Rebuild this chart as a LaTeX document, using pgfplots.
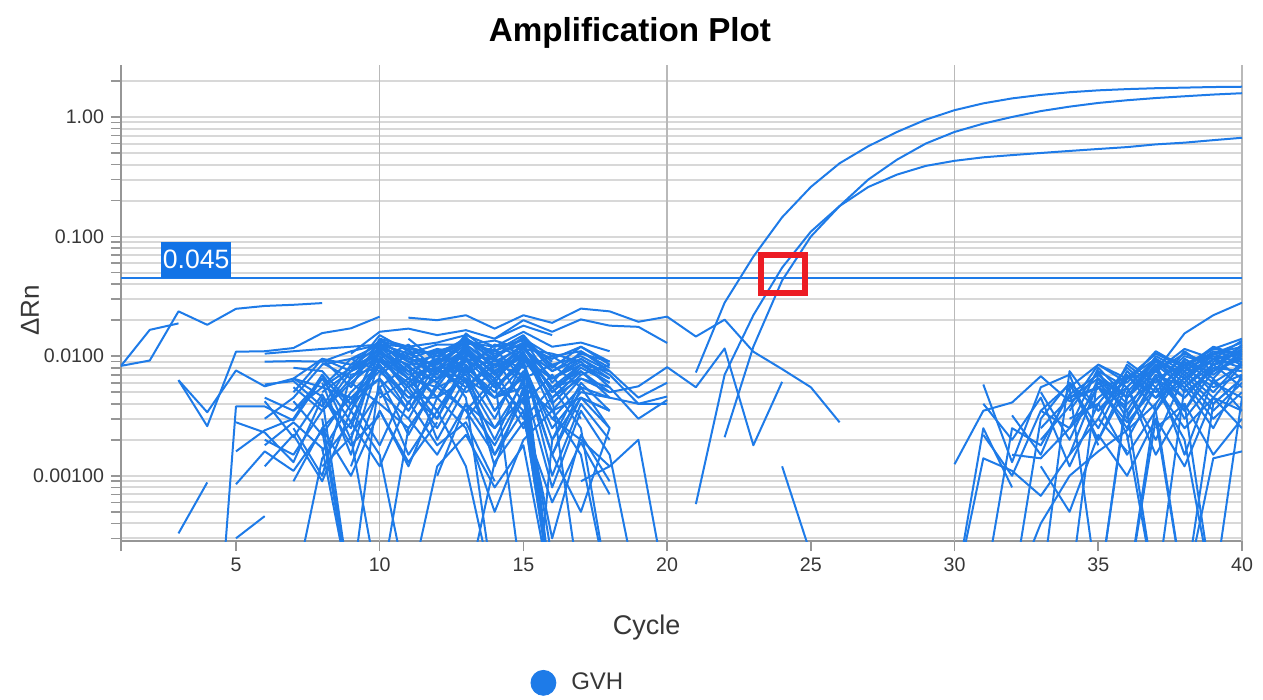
\documentclass[border=0pt]{standalone}
\usepackage{fontspec}
\setmainfont{Liberation Sans}
\usepackage{pgfplots}
\pgfplotsset{compat=1.18}
\definecolor{lineblue}{RGB}{30,123,232}
\definecolor{boxblue}{RGB}{18,115,230}
\definecolor{redbox}{RGB}{236,28,36}
\definecolor{gridgray}{RGB}{216,216,216}
\definecolor{vgrid}{RGB}{185,185,185}
\definecolor{axisgray}{RGB}{150,150,150}
\definecolor{ticktext}{RGB}{55,55,55}
\pgfplotsset{n/.style={lineblue, line width=1pt, line join=round, forget plot}}
\begin{document}
\begin{tikzpicture}
\path[use as bounding box] (-60.5pt,-79.5pt) rectangle (571pt,270.5pt);
\begin{axis}[
    scale only axis, width=560.5pt, height=238pt,
    ymode=log, xmin=1, xmax=40, ymin=0.000285, ymax=2.72,
    axis x line*=bottom, axis y line*=left,
    axis line style={axisgray, line width=1pt},
    xtick={1,5,10,15,20,25,30,35,40},
    xticklabels={,5,10,15,20,25,30,35,40},
    ytick={0.001,0.01,0.1,1},
    yticklabels={0.00100,0.0100,0.100,1.00},
    minor ytick={0.0003,0.0004,0.0005,0.0006,0.0007,0.0008,0.0009,
        0.002,0.003,0.004,0.005,0.006,0.007,0.008,0.009,
        0.02,0.03,0.04,0.05,0.06,0.07,0.08,0.09,
        0.2,0.3,0.4,0.5,0.6,0.7,0.8,0.9,2},
    tick align=outside, major tick length=5pt, minor tick length=5pt,
    every tick/.style={axisgray, line width=0.8pt},
    ymajorgrids, yminorgrids,
    major grid style={gridgray, line width=1pt},
    minor grid style={gridgray, line width=1pt},
    extra x ticks={10,20,30,40}, extra x tick labels={},
    extra x tick style={grid=major, major grid style={vgrid, line width=0.8pt}, major tick length=0pt},
    ticklabel style={font=\fontsize{9.8}{11}\selectfont, text=ticktext},
    title={Amplification Plot},
    title style={font=\fontsize{16.6}{20}\selectfont\bfseries, at={(axis description cs:0.454,1.0252)}, anchor=base},
    xlabel={Cycle},
    xlabel style={font=\fontsize{13.5}{16}\selectfont, text=ticktext, at={(axis description cs:0.469,-0.1954)}, anchor=base},
    ylabel={ΔRn},
    ylabel style={font=\fontsize{13}{16}\selectfont, text=ticktext, at={(axis description cs:-0.0812,0.485)}, anchor=center},
    legend style={at={(axis description cs:0.3596,-0.298)}, anchor=west, draw=none, fill=none, font=\fontsize{12}{14}\selectfont, text=ticktext},
]
\addlegendimage{legend image code/.code={\fill[lineblue] (6.25pt,0pt) circle (6.25pt); \path (18pt,0pt);}}
\addlegendentry{GVH}
% left baseline cluster
\addplot[n] coordinates {(1,.0083)(2,.0166)(3,.0188)};
\addplot[n] coordinates {(1,.0083)(2,.0092)(3,.0237)(4,.0183)(5,.0249)(6,.0263)(7,.0269)(8,.0278)};
\addplot[n] coordinates {(3,.0063)(4,.0026)(5,.0109)(6,.011)(7,.0117)(8,.0156)(9,.0171)(10,.0214)};
\addplot[n] coordinates {(3,.0063)(4,.0034)(5,.0076)(6,.0056)(7,.0065)(8,.0046)};
\addplot[n] coordinates {(3,.00033)(4,.00088)};
\addplot[n] coordinates {(4.5,.0001)(5,.0038)(6,.0038)(7,.0029)(8,.0065)(9,.004)(10,.009)(11,.006)(12,.003)(13,.008)(14,.005)(15,.01)(16,.0001)};
\addplot[n] coordinates {(5,.0003)(6,.00046)};
\addplot[n] coordinates {(5,.0028)(6,.0023)(7,.0013)(8,.0045)(9,.0001)};
\addplot[n] coordinates {(5,.0016)(6,.0024)(7,.003)(8,.007)(9,.002)(10,.012)(11,.009)(12,.006)(13,.012)(14,.007)(15,.013)(16,.004)(17,.007)};
\addplot[n] coordinates {(6,.009)(7,.0091)(8,.009)(9,.011)(10,.0125)(11,.012)(12,.010)(13,.013)(14,.011)(15,.014)(16,.010)(17,.011)(18,.008)};
\addplot[n] coordinates {(6,.0058)(7,.0062)(8,.0038)(9,.0085)(10,.010)(11,.0055)(12,.0075)(13,.011)(14,.006)(15,.012)(16,.005)(17,.008)(18,.006)};
\addplot[n] coordinates {(6,.002)(7,.0015)(8,.0035)(9,.006)(10,.004)(11,.0025)(12,.0055)(13,.007)(14,.003)(15,.009)(16,.001)(17,.004)(18,.002)};
\addplot[n] coordinates {(7,.0025)(8,.001)(9,.007)(10,.008)(11,.0035)(12,.009)(13,.006)(14,.002)(15,.0065)(16,.0001)};
\addplot[n] coordinates {(6,.0018)(7,.0028)(8,.0017)(9,.0001)};
\addplot[n] coordinates {(7,.005)(8,.0095)(9,.0055)(10,.014)(11,.009)(12,.0075)(13,.014)(14,.009)(15,.012)(16,.0065)(17,.009)(18,.0055)(19,.003)(20,.0043)};
\addplot[n] coordinates {(8,.0045)(9,.0025)(10,.011)(11,.0075)(12,.0045)(13,.010)(14,.0035)(15,.007)(16,.0001)};
\addplot[n] coordinates {(8,.007)(9,.0035)(10,.013)(11,.008)(12,.006)(13,.011)(14,.0055)(15,.009)(16,.002)(17,.006)(18,.0035)};
\addplot[n] coordinates {(8,.003)(9,.0001)};
\addplot[n] coordinates {(8,.006)(9,.0015)(10,.0095)(11,.0065)(12,.0035)(13,.0085)(14,.0012)(15,.0055)(16,.0001)};
\addplot[n] coordinates {(9,.0001)(10,.007)(11,.0105)(12,.008)(13,.005)(14,.0075)(15,.003)(16,.0055)(17,.0025)(18,.0001)};
\addplot[n] coordinates {(7,.0042)(8,.0022)(9,.005)(10,.0085)(11,.004)(12,.011)(13,.007)(14,.010)(15,.004)(16,.007)(17,.003)};
\addplot[n] coordinates {(8,.0088)(9,.0065)(10,.012)(11,.0095)(12,.0085)(13,.0125)(14,.008)(15,.0115)(16,.0075)(17,.0095)(18,.007)(19,.004)(20,.0046)};
\addplot[n] coordinates {(10,.014)(11,.012)(12,.013)(13,.015)(14,.012)(15,.016)(16,.012)(17,.013)(18,.011)};
\addplot[n] coordinates {(9,.0105)(10,.016)(11,.017)(12,.015)(13,.0165)(14,.014)(15,.018)(16,.015)};
\addplot[n] coordinates {(11,.021)(12,.020)(13,.022)(14,.017)(15,.022)(16,.019)(17,.025)(18,.0237)(19,.0194)(20,.0214)(21,.0146)(22,.0202)(23,.0109)(24,.0078)(25,.0055)(26,.0028)};
\addplot[n] coordinates {(14,.014)(15,.020)(16,.016)(17,.0203)(18,.018)(19,.0176)(20,.0129)};
\addplot[n] coordinates {(10,.010)(11,.005)(12,.003)(13,.0095)(14,.0065)(15,.0001)};
\addplot[n] coordinates {(9,.0045)(10,.0018)(11,.006)(12,.0095)(13,.0045)(14,.0001)};
\addplot[n] coordinates {(10,.0055)(11,.0085)(12,.002)(13,.0055)(14,.0095)(15,.006)(16,.0008)(17,.0035)(18,.0015)(19,.0001)};
\addplot[n] coordinates {(12,.0065)(13,.012)(14,.007)(15,.0105)(16,.0045)(17,.0075)(18,.005)(19,.0056)(20,.0081)(21,.0055)(22,.0116)(23,.0018)(24,.0061)};
\addplot[n] coordinates {(16,.003)(17,.0055)(18,.0045)(19,.004)(20,.0040)};
\addplot[n] coordinates {(6,.0105)(7,.011)(8,.0115)(9,.012)(10,.0125)(11,.0105)(12,.011)(13,.013)(14,.012)(15,.0135)(16,.009)};
\addplot[n] coordinates {(7,.0065)(8,.0055)(9,.008)(10,.0125)(11,.009)(12,.010)(13,.014)(14,.010)(15,.013)(16,.0085)(17,.010)(18,.0075)};
\addplot[n] coordinates {(9,.0022)(10,.005)(11,.003)(12,.0015)(13,.004)(14,.0025)(15,.0045)(16,.0001)};
\addplot[n] coordinates {(10,.0035)(11,.0012)(12,.0045)(13,.0025)(14,.0005)(15,.002)(16,.0035)(17,.0015)(18,.0001)};
\addplot[n] coordinates {(13,.003)(14,.006)(15,.0035)(16,.0001)};
\addplot[n] coordinates {(15.5,.0001)(16,.002)(17,.0045)(18,.0025)};
\addplot[n] coordinates {(11,.003)(12,.008)(13,.0055)(14,.0085)(15,.007)(16,.003)(17,.002)(18,.0012)(19,.002)(20,.0001)};
\addplot[n] coordinates {(7,.0009)(8,.0025)(9,.001)(10,.0035)(11,.0013)(12,.0028)};
\addplot[n] coordinates {(8,.0016)(9,.004)(10,.0065)(11,.0022)(12,.006)(13,.0035)(14,.0015)(15,.0045)(16,.0003)(17,.0022)(18,.0009)};
\addplot[n] coordinates {(9,.008)(10,.0105)(11,.0085)(12,.009)(13,.010)(14,.0095)(15,.008)(16,.010)(17,.007)(18,.0085)};
\addplot[n] coordinates {(6,.003)(7,.0045)(8,.0085)(9,.0095)(10,.011)(11,.007)(12,.008)(13,.0115)(14,.007)(15,.010)(16,.0055)(17,.0085)(18,.0065)};
\addplot[n] coordinates {(12,.001)(13,.004)(14,.0018)(15,.005)(16,.0001)};
\addplot[n] coordinates {(11,.014)(12,.009)(13,.013)(14,.011)(15,.015)(16,.008)(17,.012)(18,.009)};
\addplot[n] coordinates {(8,.005)(9,.0075)(10,.015)(11,.011)(12,.007)(13,.0155)(14,.010)(15,.014)(16,.006)(17,.011)(18,.0075)};
\addplot[n] coordinates {(17,.0009)(18,.0012)};
\addplot[n] coordinates {(16,.0015)(17,.0005)(18,.0025)};
\addplot[n] coordinates {(7,.008)(8,.0075)(9,.004)(10,.0115)(11,.010)(12,.0065)(13,.0125)(14,.0085)(15,.0125)(16,.005)(17,.0085)(18,.006)};
\addplot[n] coordinates {(8,.0035)(9,.0065)(10,.0105)(11,.0085)(12,.0045)(13,.0105)(14,.0065)(15,.011)(16,.0035)(17,.0065)};
\addplot[n] coordinates {(9,.0055)(10,.0135)(11,.0095)(12,.0085)(13,.0135)(14,.0095)(15,.0145)(16,.0075)(17,.0105)(18,.009)};
\addplot[n] coordinates {(7,.0035)(8,.0065)(9,.0028)(10,.0095)(11,.0055)(12,.0095)(13,.0085)(14,.0045)(15,.0085)(16,.0025)(17,.005)(18,.0045)};
\addplot[n] coordinates {(8,.0055)(9,.0095)(10,.0075)(11,.0115)(12,.0065)(13,.009)(14,.0115)(15,.0065)(16,.0085)(17,.0055)};
\addplot[n] coordinates {(9,.0035)(10,.0085)(11,.0045)(12,.0065)(13,.0095)(14,.0035)(15,.0075)(16,.0015)(17,.0045)(18,.0035)};
\addplot[n] coordinates {(10,.012)(11,.0075)(12,.0095)(13,.0145)(14,.0075)(15,.0105)(16,.0055)(17,.0075)(18,.0045)};
\addplot[n] coordinates {(8,.0025)(9,.0045)(10,.0065)(11,.0035)(12,.0075)(13,.0065)(14,.0025)(15,.006)(16,.0002)};
\addplot[n] coordinates {(9,.006)(10,.0095)(11,.0125)(12,.0075)(13,.0075)(14,.0125)(15,.0095)(16,.0065)(17,.0095)(18,.0065)};
\addplot[n] coordinates {(7,.0055)(8,.0035)(9,.0075)(10,.0105)(11,.0065)(12,.0055)(13,.0115)(14,.0055)(15,.0095)(16,.0045)(17,.0065)(18,.005)};
\addplot[n] coordinates {(10,.0045)(11,.0065)(12,.0035)(13,.0075)(14,.0045)(15,.0065)(16,.0001)};
\addplot[n] coordinates {(8,.0095)(9,.0085)(10,.0135)(11,.0115)(12,.0105)(13,.014)(14,.0105)(15,.0125)(16,.0095)(17,.012)(18,.0085)};
\addplot[n] coordinates {(9,.0095)(10,.0125)(11,.0105)(12,.0125)(13,.0125)(14,.0135)(15,.0115)(16,.0105)(17,.009)};
\addplot[n] coordinates {(6,.0045)(7,.0035)(8,.0055)(9,.0045)(10,.0075)(11,.0045)(12,.0045)(13,.0065)(14,.0045)(15,.0055)(16,.0035)(17,.0045)(18,.0035)};
\addplot[n] coordinates {(11,.0055)(12,.0025)(13,.0065)(14,.0015)(15,.0035)(16,.0001)};
\addplot[n] coordinates {(12,.0045)(13,.0095)(14,.0055)(15,.0085)(16,.0015)(17,.0055)(18,.0025)};
\addplot[n] coordinates {(7,.0065)(8,.0095)(9,.0075)(10,.0095)(11,.0075)(12,.0095)(13,.0095)(14,.0085)(15,.0095)(16,.0065)};
\addplot[n] coordinates {(9,.0012)(10,.0055)(11,.0015)(12,.0035)(13,.0012)(14,.0001)};
\addplot[n] coordinates {(10,.0001)(11,.0025)(12,.0055)(13,.0035)(14,.0065)(15,.0025)(16,.0045)(17,.0001)};
\addplot[n] coordinates {(13,.0105)(14,.0075)(15,.0115)(16,.0065)(17,.0085)(18,.0075)(19,.0045)(20,.006)};
\addplot[n] coordinates {(9,.0075)(10,.0115)(11,.0065)(12,.0115)(13,.0105)(14,.0065)(15,.0105)(16,.0045)(17,.0075)};
\addplot[n] coordinates {(11,.0095)(12,.0115)(13,.0075)(14,.0125)(15,.0105)(16,.0055)(17,.0065)(18,.0055)};
\addplot[n] coordinates {(6,.0012)(7,.0022)(8,.0009)(9,.0035)(10,.0015)(11,.0001)};
\addplot[n] coordinates {(7,.0001)(8,.0014)(9,.0028)(10,.0012)(11,.0042)(12,.0018)(13,.0028)(14,.0009)};
\addplot[n] coordinates {(5,.00085)(6,.0016)(7,.0011)(8,.0024)(9,.0001)};
\addplot[n] coordinates {(11,.0001)(12,.0012)(13,.0022)(14,.0008)(15,.0018)(16,.0001)};
\addplot[n] coordinates {(6,.0042)(7,.0021)(8,.0048)(9,.0018)(10,.0032)};
\addplot[n] coordinates {(13,.0001)(14,.0013)(15,.0028)(16,.0006)(17,.0019)(18,.0007)};
\addplot[n] coordinates {(8,.0012)(9,.0021)(10,.0001)};
\addplot[n] coordinates {(24,.0012)(25,.00022)};
% amplification curves
\addplot[n] coordinates {(21,.0073)(22,.028)(23,.068)(24,.145)(25,.26)(26,.41)(27,.57)(28,.75)(29,.95)(30,1.14)(31,1.30)(32,1.43)(33,1.53)(34,1.61)(35,1.67)(36,1.71)(37,1.74)(38,1.76)(39,1.78)(40,1.79)};
\addplot[n] coordinates {(22,.0021)(23,.012)(24,.043)(25,.10)(26,.18)(27,.30)(28,.44)(29,.60)(30,.75)(31,.88)(32,1.0)(33,1.12)(34,1.22)(35,1.31)(36,1.38)(37,1.44)(38,1.49)(39,1.54)(40,1.58)};
\addplot[n] coordinates {(21,.00058)(22,.0070)(23,.022)(24,.055)(25,.11)(26,.18)(27,.26)(28,.33)(29,.39)(30,.43)(31,.46)(32,.48)(33,.50)(34,.52)(35,.54)(36,.56)(37,.59)(38,.61)(39,.64)(40,.67)};
% right baseline cluster
\addplot[n] coordinates {(34,.0045)(35,.0055)(36,.0065)(37,.0075)(38,.0155)(39,.022)(40,.028)};
\addplot[n] coordinates {(30,.00125)(31,.0035)(32,.0041)(33,.0068)(34,.0042)(35,.0055)(36,.0038)};
\addplot[n] coordinates {(30,.0001)(31,.0014)(32,.0011)(33,.00068)(34,.0015)(35,.003)(36,.0016)};
\addplot[n] coordinates {(31,.0022)(32,.001)(33,.0035)(34,.0058)(35,.0025)(36,.0075)(37,.0045)(38,.006)(39,.003)(40,.005)};
\addplot[n] coordinates {(31,.004)(32,.002)(33,.0045)(34,.0012)(35,.004)(36,.008)(37,.005)(38,.009)(39,.006)(40,.0085)};
\addplot[n] coordinates {(32,.0032)(33,.0015)(34,.0055)(35,.0001)};
\addplot[n] coordinates {(32,.0001)(33,.003)(34,.006)(35,.002)(36,.0065)(37,.0095)(38,.005)(39,.0075)(40,.010)};
\addplot[n] coordinates {(33,.0001)(34,.0075)(35,.0035)(36,.0055)(37,.002)(38,.007)(39,.004)(40,.0065)};
\addplot[n] coordinates {(34,.0025)(35,.008)(36,.0045)(37,.010)(38,.0075)(39,.011)(40,.0095)};
\addplot[n] coordinates {(34,.0001)(35,.0075)(36,.003)(37,.008)(38,.0035)(39,.009)(40,.012)};
\addplot[n] coordinates {(35,.0001)(36,.005)(37,.009)(38,.006)(39,.0105)(40,.013)};
\addplot[n] coordinates {(35,.0055)(36,.0025)(37,.007)(38,.0015)(39,.0065)(40,.0035)};
\addplot[n] coordinates {(33,.002)(34,.0038)(35,.0085)(36,.006)(37,.011)(38,.008)(39,.0115)(40,.014)};
\addplot[n] coordinates {(31,.0001)(32,.0025)(33,.0018)(34,.0048)(35,.007)(36,.004)(37,.0065)(38,.0045)(39,.008)(40,.0075)};
\addplot[n] coordinates {(36,.0001)(37,.004)(38,.0085)(39,.005)(40,.009)};
\addplot[n] coordinates {(37,.0001)(38,.0055)(39,.0025)(40,.007)};
\addplot[n] coordinates {(36,.009)(37,.006)(38,.010)(39,.0085)(40,.011)};
\addplot[n] coordinates {(35,.0045)(36,.007)(37,.0035)(38,.0095)(39,.007)(40,.0105)};
\addplot[n] coordinates {(33,.0012)(34,.0005)(35,.0022)(36,.001)(37,.003)(38,.0001)};
\addplot[n] coordinates {(34,.0015)(35,.006)(36,.0035)(37,.0001)};
\addplot[n] coordinates {(36,.002)(37,.0055)(38,.002)(39,.0001)};
\addplot[n] coordinates {(38,.0001)(39,.0014)(40,.0016)};
\addplot[n] coordinates {(35,.003)(36,.0085)(37,.0055)(38,.011)(39,.0075)(40,.0125)};
\addplot[n] coordinates {(36,.0065)(37,.0105)(38,.008)(39,.012)(40,.010)};
\addplot[n] coordinates {(34,.003)(35,.004)(36,.0015)(37,.0035)(38,.0001)};
\addplot[n] coordinates {(37,.0075)(38,.0115)(39,.0095)(40,.0135)};
\addplot[n] coordinates {(36,.0045)(37,.0085)(38,.003)(39,.006)(40,.0045)};
\addplot[n] coordinates {(32.5,.0002)(33,.0004)(34,.001)(35,.0016)(36,.0024)(37,.004)};
\addplot[n] coordinates {(38,.0065)(39,.0095)(40,.008)};
\addplot[n] coordinates {(35,.002)(36,.0055)(37,.0015)(38,.004)(39,.0001)};
\addplot[n] coordinates {(30,.0001)(31,.0025)(32,.0008)};
\addplot[n] coordinates {(33,.005)(34,.002)(35,.0065)(36,.0022)(37,.0001)};
\addplot[n] coordinates {(37,.0025)(38,.004)(39,.0015)(40,.003)};
\addplot[n] coordinates {(36,.0032)(37,.007)(38,.0055)(39,.0085)(40,.0115)};
\addplot[n] coordinates {(39,.0001)(40,.0045)};
\addplot[n] coordinates {(35,.007)(36,.0045)(37,.0095)(38,.007)(39,.010)(40,.009)};
\addplot[n] coordinates {(34,.006)(35,.0035)(36,.0068)(37,.0045)(38,.008)(39,.0055)(40,.007)};
\addplot[n] coordinates {(32,.0015)(33,.0014)(34,.0025)(35,.0045)};
\addplot[n] coordinates {(31,.0058)(32,.0013)(33,.0055)(34,.007)(35,.0018)};
\addplot[n] coordinates {(35,.0065)(36,.0035)(37,.0085)(38,.0055)(39,.0095)(40,.0105)};
\addplot[n] coordinates {(36,.0075)(37,.0045)(38,.0095)(39,.0065)(40,.0115)};
\addplot[n] coordinates {(34,.0035)(35,.0075)(36,.0055)(37,.0095)(38,.0065)(39,.0105)(40,.0085)};
\addplot[n] coordinates {(37,.0065)(38,.0085)(39,.0075)(40,.0125)};
\addplot[n] coordinates {(35,.0035)(36,.0065)(37,.0075)(38,.0105)(39,.0085)(40,.0095)};
\addplot[n] coordinates {(36,.0055)(37,.0095)(38,.0065)(39,.0095)(40,.0065)};
\addplot[n] coordinates {(33,.0025)(34,.0045)(35,.0065)(36,.0045)(37,.0085)(38,.0075)(39,.0105)(40,.012)};
\addplot[n] coordinates {(35,.0001)(36,.0045)(37,.0075)(38,.0045)(39,.0085)(40,.0055)};
\addplot[n] coordinates {(37,.0035)(38,.0075)(39,.0045)(40,.0085)};
\addplot[n] coordinates {(36,.0025)(37,.0065)(38,.0035)(39,.0075)(40,.0095)};
\addplot[n] coordinates {(38,.0085)(39,.0115)(40,.0105)};
\addplot[n] coordinates {(34,.0055)(35,.0085)(36,.0065)(37,.0105)(38,.0085)(39,.0105)(40,.011)};
\addplot[n] coordinates {(37,.0045)(38,.0065)(39,.0035)(40,.006)};
\addplot[n] coordinates {(33,.0035)(34,.0025)(35,.0055)(36,.0028)(37,.0055)(38,.0025)(39,.0045)(40,.0035)};
\addplot[n] coordinates {(38,.0001)(39,.004)(40,.0065)};
\addplot[n] coordinates {(36,.0001)(37,.003)(38,.0012)(39,.0045)(40,.0025)};
% threshold
\addplot[lineblue, line width=1.1pt, forget plot] coordinates {(1,.045)(40,.045)};
\node[anchor=south west, fill=boxblue, text=white, inner xsep=0.8pt, inner ysep=3.5pt,
      text height=10pt, text depth=1pt, font=\fontsize{13.3}{15}\selectfont]
      at (axis cs:2.39,.045) {0.045};
\draw[redbox, line width=3pt] (axis cs:23.27,.0703) rectangle (axis cs:24.8,.0338);
\end{axis}
\end{tikzpicture}
\end{document}
